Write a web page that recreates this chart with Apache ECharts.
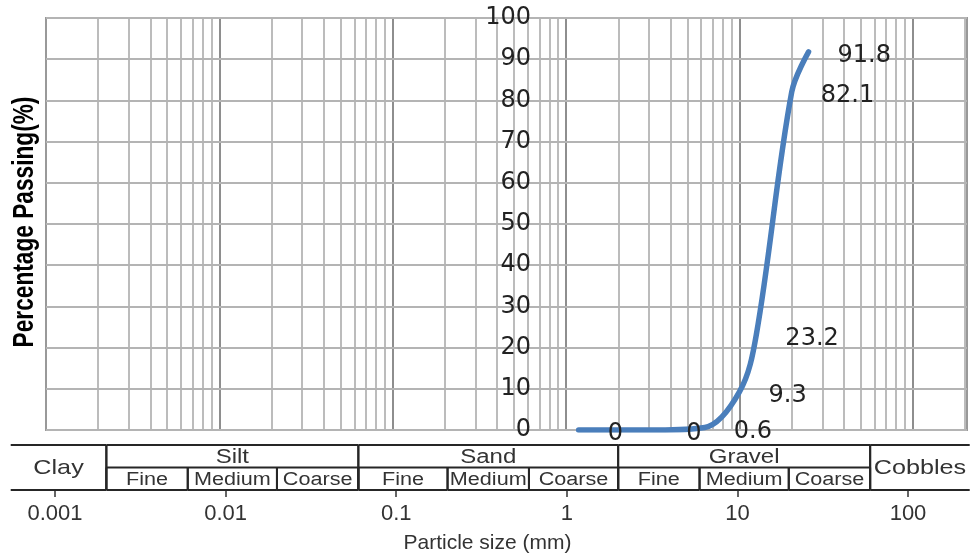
<!DOCTYPE html>
<html>
<head>
<meta charset="utf-8">
<script src="https://cdn.jsdelivr.net/npm/echarts@6/dist/echarts.min.js"></script>
<style>
html,body{margin:0;padding:0;background:#fff;}
#chart{width:973px;height:553px;}
</style>
</head>
<body>
<div id="chart"></div>
<script>
// ---- data ----
const sieveSizes = [1.18, 3.35, 6.3, 10, 12.5, 20, 25];        // mm
const percentPassing = [0, 0, 0.6, 9.3, 23.2, 82.1, 91.8];     // %
const xTickLabels = [0.001, 0.01, 0.1, 1, 10, 100];            // mm
const classNames = ['Clay', 'Silt', 'Sand', 'Gravel', 'Cobbles'];
const classBounds = [0.002, 0.06, 2, 60];                      // mm
const fractionNames = ['Fine', 'Medium', 'Coarse'];
const fractionBounds = [                                       // silt, sand, gravel
  [0.002, 0.006, 0.02, 0.06],
  [0.06, 0.2, 0.6, 2],
  [2, 6, 20, 60]
];
const bandExtent = [0.00055, 230];                             // mm, visible extent of the class band
const xMax = 205;
const yTitle = 'Percentage Passing(%)';
const xTitle = 'Particle size (mm)';

// ---- derived ----
const lineData = sieveSizes.map((s, i) => [s, percentPassing[i]]);

const gridLines = [];
xTickLabels.forEach(d => {
  for (let m = 1; m <= 9; m++) {
    const v = +(m * d).toPrecision(6);
    if (v > xTickLabels[0] && v < xMax) {
      gridLines.push({ xAxis: v, lineStyle: { color: m === 1 ? '#8e8e8e' : '#bcbcbc', width: 2, type: 'solid' } });
    }
  }
});

// band cells: [lo, hi, kind(0 full,1 top,2 sub), name]
const bandCells = [];
classNames.forEach((n, i) => {
  const lo = i === 0 ? bandExtent[0] : classBounds[i - 1];
  const hi = i === classNames.length - 1 ? bandExtent[1] : classBounds[i];
  const kind = (i === 0 || i === classNames.length - 1) ? 0 : 1;
  bandCells.push([lo, hi, kind, n]);
});
fractionBounds.forEach(b => {
  fractionNames.forEach((n, j) => bandCells.push([b[j], b[j + 1], 2, n]));
});

const LINE = '#262626';
const TXT = '#333';

function renderBand(params, api) {
  const cell = bandCells[params.dataIndex];
  const lo = cell[0], hi = cell[1], kind = cell[2], name = cell[3];
  const x0 = api.coord([lo, 0])[0], x1 = api.coord([hi, 0])[0];
  const yTop = api.coord([1, 2])[1], yMid = api.coord([1, 1])[1], yBot = api.coord([1, 0])[1];
  const ls = { stroke: LINE, lineWidth: 2 };
  const ch = [];
  const hline = (a, b, y) => ch.push({ type: 'line', shape: { x1: a, y1: y, x2: b, y2: y }, style: ls });
  const vline = (x, a, b) => ch.push({ type: 'line', shape: { x1: x, y1: a, x2: x, y2: b }, style: ls });
  let ty, fs;
  if (kind === 0) {
    hline(x0, x1, yTop); hline(x0, x1, yBot);
    if (lo !== bandExtent[0]) vline(x0, yTop, yBot);
    if (hi !== bandExtent[1]) vline(x1, yTop, yBot);
    ty = (yTop + yBot) / 2 + 1; fs = 21;
  } else if (kind === 1) {
    hline(x0, x1, yTop); hline(x0, x1, yMid);
    vline(x0, yTop, yBot); vline(x1, yTop, yBot);
    ty = (yTop + yMid) / 2 + 1; fs = 20;
  } else {
    hline(x0, x1, yBot);
    vline(x0, yMid, yBot); vline(x1, yMid, yBot);
    ty = (yMid + yBot) / 2 + 1; fs = 18;
  }
  ch.push({
    type: 'text', x: (x0 + x1) / 2, y: ty, scaleX: 1.2, scaleY: 1,
    style: { text: name, fill: TXT, fontSize: fs, fontFamily: 'Liberation Sans, Arial, sans-serif', align: 'center', verticalAlign: 'middle' }
  });
  return { type: 'group', children: ch };
}

const chart = echarts.init(document.getElementById('chart'), null, { renderer: 'canvas' });
chart.setOption({
  animation: false,
  backgroundColor: '#fff',
  textStyle: { fontFamily: 'Liberation Sans, Arial, sans-serif' },
  grid: [
    { left: 46, top: 18, right: 6, bottom: 123, show: true, borderColor: '#999', borderWidth: 2, outerBoundsMode: 'none' },
    { left: 55, right: 65, top: 445, bottom: 63, outerBoundsMode: 'none' }
  ],
  graphic: [{
    type: 'text', z: 10, silent: true,
    x: 25, y: 222, rotation: Math.PI / 2, scaleX: 0.81, scaleY: 1.05,
    style: { text: yTitle, fill: '#000', fontSize: 28, fontWeight: 'bold', fontFamily: 'Liberation Sans, Arial, sans-serif', align: 'center', verticalAlign: 'middle' }
  }],
  xAxis: [
    {
      gridIndex: 0, type: 'log', logBase: 10, min: xTickLabels[0], max: xMax,
      axisLine: { show: false }, axisTick: { show: false }, axisLabel: { show: false }, splitLine: { show: false }
    },
    {
      gridIndex: 1, type: 'log', logBase: 10, min: xTickLabels[0], max: xTickLabels[xTickLabels.length - 1],
      axisLine: { show: false },
      axisTick: { show: true, inside: false, length: 7, lineStyle: { color: '#333', width: 1.5 } },
      axisLabel: { fontFamily: 'Liberation Sans, Arial, sans-serif', fontSize: 22, color: '#333', margin: 13 },
      splitLine: { show: false },
      name: xTitle, nameLocation: 'middle', nameGap: 43,
      nameTextStyle: { fontFamily: 'Liberation Sans, Arial, sans-serif', fontSize: 21, color: '#333', padding: [0, 0, 0, 12] }
    }
  ],
  yAxis: [
    {
      gridIndex: 0, type: 'value', min: 0, max: 100, interval: 10, position: 'left', offset: -492, z: 4,
      axisLine: { show: false }, axisTick: { show: false },
      axisLabel: { fontFamily: 'DejaVu Sans, Verdana, sans-serif', fontSize: 24, color: '#222', margin: 7 },
      splitLine: { show: true, lineStyle: { color: '#b4b4b4', width: 2 } }
    },
    { gridIndex: 1, type: 'value', min: 0, max: 2, show: false }
  ],
  series: [
    {
      type: 'line', xAxisIndex: 0, yAxisIndex: 0, data: [], z: 1, silent: true,
      markLine: {
        silent: true, symbol: 'none', z: 1, animation: false, precision: 10,
        label: { show: false }, emphasis: { disabled: true },
        data: gridLines
      }
    },
    {
      type: 'line', xAxisIndex: 0, yAxisIndex: 0, data: lineData, z: 6,
      smooth: 0.35, symbol: 'circle', symbolSize: 2, showSymbol: true,
      lineStyle: { color: '#4a7ebb', width: 5.5, cap: 'round', join: 'round' },
      itemStyle: { color: '#4a7ebb' },
      label: {
        show: true, position: 'right', distance: 28, offset: [0, 4],
        formatter: p => String(p.value[1]),
        fontFamily: 'DejaVu Sans, Verdana, sans-serif', fontSize: 24, color: '#222'
      },
      emphasis: { disabled: true }
    },
    {
      type: 'custom', xAxisIndex: 1, yAxisIndex: 1, clip: false, silent: true,
      data: bandCells.map(c => [c[0], c[1], c[2]]),
      encode: { x: [0, 1], y: 2 },
      renderItem: renderBand
    }
  ]
});
</script>
</body>
</html>
